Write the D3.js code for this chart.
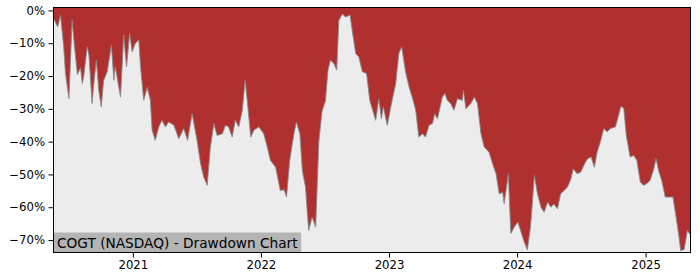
<!DOCTYPE html>
<html>
<head>
<meta charset="utf-8">
<script src="https://cdn.jsdelivr.net/npm/d3@7"></script>
<style>
  html, body { margin: 0; padding: 0; background: #ffffff; }
  svg { display: block; }
  text { font-family: "DejaVu Sans", sans-serif; }
</style>
</head>
<body>
<svg id="chart" width="700" height="280"></svg>
<script>
// ---- data ----
const dates = [
  "2020-05-20","2020-06-01","2020-06-09","2020-06-18","2020-06-23","2020-07-03","2020-07-12","2020-07-17","2020-07-27","2020-08-05",
  "2020-08-10","2020-08-14","2020-08-24","2020-08-29","2020-09-07","2020-09-11","2020-09-19","2020-09-26","2020-10-03","2020-10-10",
  "2020-10-20","2020-11-01","2020-11-08","2020-11-12","2020-11-27","2020-12-06","2020-12-14","2020-12-23","2020-12-30","2021-01-08",
  "2021-01-18","2021-01-23","2021-02-01","2021-02-11","2021-02-20","2021-02-25","2021-03-06","2021-03-16","2021-03-25","2021-04-04",
  "2021-04-13","2021-04-28","2021-05-12","2021-05-26","2021-06-06","2021-06-19","2021-07-03","2021-07-13","2021-07-22","2021-08-01",
  "2021-08-10","2021-08-20","2021-08-29","2021-09-13","2021-09-22","2021-10-01","2021-10-11","2021-10-20","2021-10-30","2021-11-09",
  "2021-11-17","2021-11-23","2021-12-03","2021-12-12","2021-12-26","2022-01-09","2022-01-19","2022-01-28","2022-02-12","2022-02-25",
  "2022-03-08","2022-03-15","2022-03-24","2022-04-05","2022-04-12","2022-04-22","2022-04-29","2022-05-08","2022-05-17","2022-05-27",
  "2022-06-06","2022-06-15","2022-06-24","2022-07-04","2022-07-11","2022-07-18","2022-07-28","2022-08-05","2022-08-11","2022-08-21",
  "2022-08-30","2022-09-12","2022-09-18","2022-09-28","2022-10-07","2022-10-17","2022-10-29","2022-11-07","2022-11-24","2022-12-03",
  "2022-12-10","2022-12-16","2022-12-27","2023-01-06","2023-01-20","2023-01-29","2023-02-06","2023-02-17","2023-02-27","2023-03-08",
  "2023-03-18","2023-03-27","2023-04-06","2023-04-15","2023-04-25","2023-05-05","2023-05-11","2023-05-19","2023-06-02","2023-06-09",
  "2023-06-16","2023-06-26","2023-07-05","2023-07-15","2023-07-29","2023-08-01","2023-08-08","2023-08-22","2023-09-01","2023-09-10",
  "2023-09-20","2023-09-29","2023-10-13","2023-10-23","2023-11-02","2023-11-11","2023-11-21","2023-11-25","2023-12-07","2023-12-14",
  "2023-12-24","2024-01-03","2024-01-12","2024-01-21","2024-01-30","2024-02-08","2024-02-14","2024-02-19","2024-02-28","2024-03-09",
  "2024-03-18","2024-03-28","2024-04-06","2024-04-15","2024-04-25","2024-05-04","2024-05-14","2024-05-23","2024-06-01","2024-06-09",
  "2024-06-20","2024-06-30","2024-07-14","2024-07-20","2024-07-30","2024-08-08","2024-08-16","2024-08-25","2024-09-04","2024-09-13",
  "2024-09-23","2024-10-07","2024-10-16","2024-10-23","2024-10-31","2024-11-07","2024-11-18","2024-11-28","2024-12-07","2024-12-17",
  "2024-12-26","2025-01-05","2025-01-14","2025-01-23","2025-01-31","2025-02-07","2025-02-16","2025-02-26","2025-03-07","2025-03-20",
  "2025-03-26","2025-04-05","2025-04-11","2025-04-21","2025-04-30","2025-05-09"
];
const drawdown = [
  -2.4,-5,-1.5,-11,-19,-26.9,-3,-9,-19.5,-17.5,
  -22.3,-20.3,-11.1,-13.6,-28.4,-23.3,-15.2,-24.3,-29.4,-21.3,
  -18.7,-10.6,-21.3,-17.2,-26.4,-7.5,-17.2,-7,-12.6,-10.1,
  -8.9,-17.2,-27.4,-23.5,-27.4,-36.5,-39.6,-35.5,-33.5,-35.5,
  -34,-35,-39.1,-36,-39.6,-31.5,-39.6,-46.7,-50.8,-53.3,
  -41.6,-34.5,-38.1,-37.6,-35,-35.5,-38.6,-33.5,-35.5,-30.4,
  -21.3,-27.4,-38.6,-36.5,-35.5,-37.6,-41.6,-45.7,-47.8,-54.9,
  -54.7,-56.9,-45.7,-37.6,-34,-37.6,-48.8,-53.9,-67.1,-63,
  -66.1,-40,-30.8,-27.5,-18.2,-15.2,-16.2,-18.2,-3,-1.1,
  -2,-1.4,-6,-13.1,-14.2,-18.7,-19.2,-27.4,-33.5,-26.9,
  -33,-29.4,-35,-29.4,-22.3,-13.1,-11.1,-18.7,-23.3,-26.4,
  -30.4,-38.6,-37.6,-38.6,-35,-34.5,-31.5,-33,-26.4,-25.3,
  -27.4,-28.4,-30.4,-26.9,-27.4,-24.3,-30,-28.4,-26.4,-28.4,
  -37.6,-41.6,-43.2,-46.7,-49.8,-55.9,-55.5,-58.9,-49.8,-68,
  -66,-64.5,-67.5,-70.5,-73,-66,-57.9,-50.3,-55.9,-60,
  -61.5,-58.4,-60,-59,-60.5,-55.9,-54.9,-53.9,-51.8,-48.3,
  -49.8,-49.3,-46.2,-45.2,-44.7,-47.8,-43.2,-40.1,-36,-37,
  -36,-35.5,-32,-29.2,-29.9,-38.1,-44.7,-44.2,-45.7,-52.3,
  -53.3,-52.8,-51.8,-48.8,-45.2,-48.8,-51.8,-56.9,-56.9,-56.9,
  -61,-68.1,-73.2,-72.9,-67.1,-68.5
];
const yTicks = [0, -10, -20, -30, -40, -50, -60, -70];
const xTickYears = ["2021", "2022", "2023", "2024", "2025"];
const yLimits = [-73.8, 0.9];
const title = "COGT (NASDAQ) - Drawdown Chart";

// ---- layout ----
const W = 700, H = 280;
const m = { left: 53.5, right: 690.5, top: 7.5, bottom: 252.5 };
const parse = d3.timeParse("%Y-%m-%d");
const data = dates.map((d, i) => ({ date: parse(d), v: drawdown[i] }));

const x = d3.scaleTime()
  .domain(d3.extent(data, d => d.date))
  .range([m.left, m.right]);
const y = d3.scaleLinear()
  .domain(yLimits)
  .range([m.bottom, m.top]);

const svg = d3.select("#chart");

svg.append("defs").append("clipPath").attr("id", "plotclip")
  .append("rect")
  .attr("x", m.left).attr("y", m.top)
  .attr("width", m.right - m.left).attr("height", m.bottom - m.top);

const plot = svg.append("g").attr("clip-path", "url(#plotclip)");

// red background (drawdown region above curve)
plot.append("rect")
  .attr("x", m.left).attr("y", m.top)
  .attr("width", m.right - m.left).attr("height", m.bottom - m.top)
  .attr("fill", "#b03030");

// light region below curve
const area = d3.area()
  .x(d => x(d.date))
  .y0(m.bottom)
  .y1(d => y(d.v));
plot.append("path")
  .datum(data)
  .attr("d", area)
  .attr("fill", "#ececec");

const line = d3.line()
  .x(d => x(d.date))
  .y(d => y(d.v));
plot.append("path")
  .datum(data)
  .attr("d", line)
  .attr("fill", "none")
  .attr("stroke", "#8a8a8a")
  .attr("stroke-width", 0.9);

// title box
const tg = svg.append("g");
const tText = tg.append("text")
  .attr("x", m.left + 3.5)
  .attr("y", m.bottom - 5)
  .attr("font-size", "13.7px")
  .attr("fill", "#000")
  .text(title);
const tw = tText.node().getComputedTextLength();
tg.insert("rect", "text")
  .attr("x", m.left)
  .attr("y", m.bottom - 20)
  .attr("width", tw + 7)
  .attr("height", 20)
  .attr("fill", "#b4b4b4");

// axes
const yAxis = d3.axisLeft(y)
  .tickValues(yTicks)
  .tickSize(5)
  .tickPadding(3.5)
  .tickFormat(d => (d === 0 ? "0%" : "\u2212" + Math.abs(d) + "%"));
const gy = svg.append("g")
  .attr("transform", `translate(${m.left},0)`)
  .call(yAxis);

const xAxis = d3.axisBottom(x)
  .tickValues(xTickYears.map(s => parse(s + "-01-01")))
  .tickSize(5)
  .tickPadding(3.5)
  .tickFormat(d3.timeFormat("%Y"));
const gx = svg.append("g")
  .attr("transform", `translate(0,${m.bottom})`)
  .call(xAxis);

[gx, gy].forEach(g => {
  g.select(".domain").remove();
  g.selectAll("text").attr("font-family", "DejaVu Sans, sans-serif").attr("font-size", "11.7px").attr("fill", "#000");
  g.selectAll("line").attr("stroke", "#000").attr("stroke-width", 1);
});

// frame
svg.append("rect")
  .attr("x", m.left).attr("y", m.top)
  .attr("width", m.right - m.left).attr("height", m.bottom - m.top)
  .attr("fill", "none")
  .attr("stroke", "#000")
  .attr("stroke-width", 1);
</script>
</body>
</html>
